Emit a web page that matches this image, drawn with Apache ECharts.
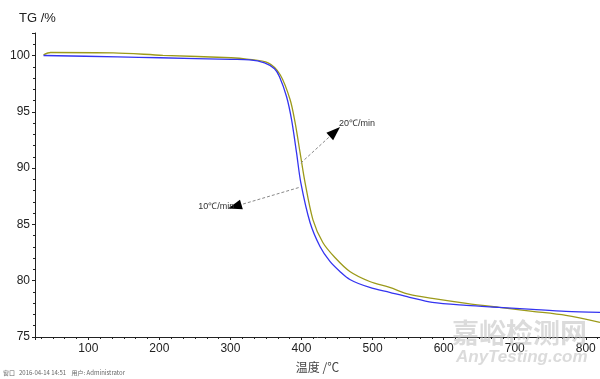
<!DOCTYPE html>
<html>
<head>
<meta charset="utf-8">
<script src="https://cdn.jsdelivr.net/npm/echarts@6/dist/echarts.min.js"></script>
<style>
  html, body { margin: 0; padding: 0; background: #fff; }
  #chart { width: 600px; height: 379px; }
</style>
</head>
<body>
<div id="chart"></div>
<script>
// 10℃/min curve (blue)
const temp10 = [37, 141, 201, 301, 327, 348, 362, 369, 379, 386, 393, 399, 412, 426, 440, 454, 468, 496, 524, 552, 584, 632, 678, 725, 772, 820];
const tg10 = [100.0, 99.88, 99.8, 99.66, 99.62, 99.35, 98.82, 98.11, 96.34, 94.3, 91.37, 88.71, 85.17, 83.04, 81.71, 80.82, 80.11, 79.4, 78.96, 78.52, 78.07, 77.81, 77.63, 77.45, 77.28, 77.19];
// 20℃/min curve (olive)
const temp20 = [37, 47, 135, 205, 301, 323, 353, 370, 384, 391, 398, 405, 416, 430, 447, 468, 496, 524, 552, 584, 632, 678, 725, 772, 820];
const tg20 = [100.06, 100.27, 100.24, 100.02, 99.8, 99.68, 99.35, 98.29, 96.07, 94.03, 91.37, 88.71, 85.43, 83.39, 82.06, 80.82, 79.93, 79.4, 78.78, 78.43, 77.99, 77.63, 77.28, 76.92, 76.3];

const yTicks = [75, 80, 85, 90, 95, 100];
const xTicks = [100, 200, 300, 400, 500, 600, 700, 800];

// annotation arrows: [from, to] in data units, label anchor
const arrow20 = [[399, 90.45], [447, 93.23]];
const arrow10 = [[396, 88.27], [306, 86.59]];
const label20 = [452, 94.0];
const label10 = [306, 86.59];

const pairs = (xs, ys) => xs.map((x, i) => [x, ys[i]]);

// short solid piece right before the tip, only to carry the black head
function head(a) {
  const [p, q] = a;
  const s = [q[0] - (q[0] - p[0]) * 0.08, q[1] - (q[1] - p[1]) * 0.08];
  return [{ coord: s, lineStyle: { color: '#000', type: 'solid', width: 1 } }, { coord: q }];
}

function arrowLines(a) {
  return {
    silent: true,
    symbol: ['none', 'triangle'],
    symbolSize: [10, 14],
    label: { show: false },
    lineStyle: { color: '#888', type: [3, 2], width: 1 },
    data: [
      [{ coord: a[0], symbol: 'none' }, { coord: a[1], symbol: 'none' }],
      head(a)
    ]
  };
}

function textMark(pt, txt, pos) {
  return {
    silent: true,
    symbol: 'circle', symbolSize: 1,
    itemStyle: { color: 'rgba(0,0,0,0)' },
    label: {
      show: true, position: pos, distance: 0, formatter: txt,
      fontFamily: 'Liberation Sans', fontSize: 9, color: '#333'
    },
    data: [{ coord: pt }]
  };
}

const chart = echarts.init(document.getElementById('chart'));
const axisColor = '#222';

chart.setOption({
  animation: false,
  grid: { left: 35, right: 0, top: 33, bottom: 42 },
  title: {
    text: 'TG /%',
    left: 14, top: 7,
    textStyle: { fontFamily: 'Liberation Sans', fontSize: 13, fontWeight: 'normal', color: '#222' }
  },
  xAxis: {
    type: 'value',
    min: 25, max: 820,
    splitNumber: 8,
    name: '温度 /℃',
    nameLocation: 'middle',
    nameGap: 24,
    nameTextStyle: { fontFamily: 'Noto Sans CJK SC', fontSize: 12, color: '#444' },
    splitLine: { show: false },
    axisLine: { lineStyle: { color: axisColor, width: 1 } },
    axisTick: { length: 3, lineStyle: { color: axisColor } },
    minorTick: { show: true, splitNumber: 6, length: 2, lineStyle: { color: axisColor } },
    axisLabel: {
      showMinLabel: false, showMaxLabel: false,
      fontFamily: 'Liberation Sans', fontSize: 12, color: '#222', margin: 6,
      formatter: v => xTicks.includes(v) ? String(v) : ''
    }
  },
  yAxis: {
    type: 'value',
    min: 75, max: 102,
    interval: 5,
    splitLine: { show: false },
    axisLine: { show: true, lineStyle: { color: axisColor, width: 1 } },
    axisTick: { show: true, length: 3, lineStyle: { color: axisColor } },
    minorTick: { show: true, splitNumber: 5, length: 2, lineStyle: { color: axisColor } },
    axisLabel: {
      showMaxLabel: false,
      fontFamily: 'Liberation Sans', fontSize: 12, color: '#222', margin: 5,
      formatter: v => yTicks.includes(v) ? String(v) : ''
    }
  },
  series: [
    {
      name: '20℃/min',
      type: 'line',
      data: pairs(temp20, tg20),
      smooth: 0.3,
      symbol: 'none',
      lineStyle: { color: '#9c9a1a', width: 1.3 },
      markLine: arrowLines(arrow20),
      markPoint: textMark(label20, '20℃/min', 'right')
    },
    {
      name: '10℃/min',
      type: 'line',
      data: pairs(temp10, tg10),
      smooth: 0.3,
      symbol: 'none',
      lineStyle: { color: '#3434f0', width: 1.3 },
      markLine: arrowLines(arrow10),
      markPoint: textMark(label10, '10℃/min', 'left')
    }
  ],
  graphic: [
    {
      type: 'text', left: 3, top: 370,
      style: { text: '窗口   2016-04-14 14:51    用户: Administrator', fontSize: 6, fill: '#666', fontFamily: 'Noto Sans CJK SC' }
    },
    {
      type: 'text', left: 452, top: 319, z: 100,
      style: { text: '嘉峪检测网', fontSize: 27, fontWeight: 'bold', fill: 'rgba(190,190,190,0.55)', fontFamily: 'Noto Sans CJK SC' }
    },
    {
      type: 'text', left: 456, top: 349, z: 100,
      style: { text: 'AnyTesting.com', fontSize: 17, fontWeight: 'bold', fontStyle: 'italic', fill: 'rgba(190,190,190,0.55)', fontFamily: 'Liberation Sans' }
    }
  ]
});
</script>
</body>
</html>
